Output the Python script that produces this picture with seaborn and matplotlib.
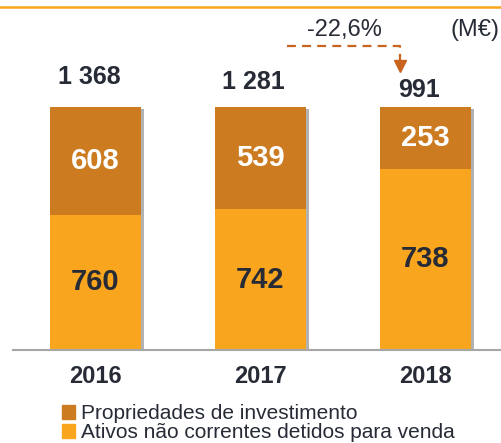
import matplotlib.pyplot as plt
import matplotlib.patheffects as pe
from matplotlib.lines import Line2D
from matplotlib.patches import Patch
import pandas as pd
import seaborn as sns

years = ["2016", "2017", "2018"]
propriedades = [608, 539, 253]
ativos = [760, 742, 738]
totais = [1368, 1281, 991]
total_labels = ["1 368", "1 281", "991"]
variacao = "-22,6%"
unidade = "(M€)"
serie_top = "Propriedades de investimento"
serie_bottom = "Ativos não correntes detidos para venda"

COR_TOP = "#CC7B21"
COR_BOTTOM = "#F9A61E"
COR_TEXTO = "#262B36"
COR_SETA = "#C8641E"

df = pd.DataFrame({"ano": years, "prop": propriedades, "ativ": ativos, "total": totais})
# barras a 100% : cada barra mostra a parte de cada componente
df["share_total"] = (df["prop"] + df["ativ"]) / df["total"]
df["share_ativ"] = df["ativ"] / df["total"]
df["share_prop"] = df["prop"] / df["total"]

sns.set_theme(style="white")
plt.rcParams["font.family"] = ["Liberation Sans", "DejaVu Sans"]

fig = plt.figure(figsize=(5.01, 4.43), dpi=100)
ax = fig.add_axes([13 / 501, 93 / 443, 488 / 501, 350 / 443])

sns.barplot(data=df, x="ano", y="share_total", color=COR_TOP, width=0.552,
            saturation=1, linewidth=0, ax=ax)
for p in ax.patches:
    p.set_path_effects([pe.SimplePatchShadow(offset=(2.5, -1.5), shadow_rgbFace="#555555", alpha=0.45),
                        pe.Normal()])
sns.barplot(data=df, x="ano", y="share_ativ", color=COR_BOTTOM, width=0.552,
            saturation=1, linewidth=0, ax=ax)

ax.set_xlim(-0.5, 2.458)
ax.set_ylim(0, 1.44)
sns.despine(ax=ax, left=True)
ax.spines["bottom"].set_color("#A6A6A6")
ax.spines["bottom"].set_linewidth(1.5)
ax.set_yticks([])
ax.set_xlabel("")
ax.set_ylabel("")
ax.tick_params(axis="x", length=0, pad=10.5)
for lab in ax.get_xticklabels():
    lab.set_fontsize(17)
    lab.set_fontweight("bold")
    lab.set_color(COR_TEXTO)

# valores dentro das barras
for i, row in df.iterrows():
    ax.text(i, row["share_ativ"] / 2, str(row["ativ"]), ha="center", va="center",
            fontsize=21, fontweight="bold", color=COR_TEXTO)
    ax.text(i, row["share_ativ"] + row["share_prop"] / 2, str(row["prop"]), ha="center",
            va="center", fontsize=21, fontweight="bold", color="white")

# totais acima das barras
total_y = [1.123, 1.103, 1.068]
for i, lab in enumerate(total_labels):
    ax.text(i - 0.04, total_y[i], lab, ha="center", va="center", fontsize=18,
            fontweight="bold", color=COR_TEXTO)

# variação 2017 -> 2018
ax.plot([1.161, 1.845, 1.845], [1.251, 1.251, 1.19], color=COR_SETA, lw=1.6,
        linestyle=(0, (4, 2.8)), clip_on=False)
ax.plot([1.845], [1.168], marker="v", markersize=8, color=COR_SETA, clip_on=False)
ax.text(1.509, 1.317, variacao, ha="center", va="center", fontsize=17, color=COR_TEXTO)
ax.text(2.3, 1.317, unidade, ha="center", va="center", fontsize=17, color=COR_TEXTO)

# linha laranja no topo
fig.add_artist(Line2D([0, 1], [1 - 7 / 443, 1 - 7 / 443], color="#F9A51B", lw=1.8))

handles = [Patch(color=COR_TOP), Patch(color=COR_BOTTOM)]
fig.legend(handles, [serie_top, serie_bottom], loc="upper left",
           bbox_to_anchor=(52 / 501, 1 - 394 / 443), frameon=False, fontsize=15,
           handlelength=0.6, handleheight=0.6, handletextpad=0.3, labelspacing=0.0,
           borderpad=0, labelcolor=COR_TEXTO)

fig.savefig("out.png", dpi=100)
